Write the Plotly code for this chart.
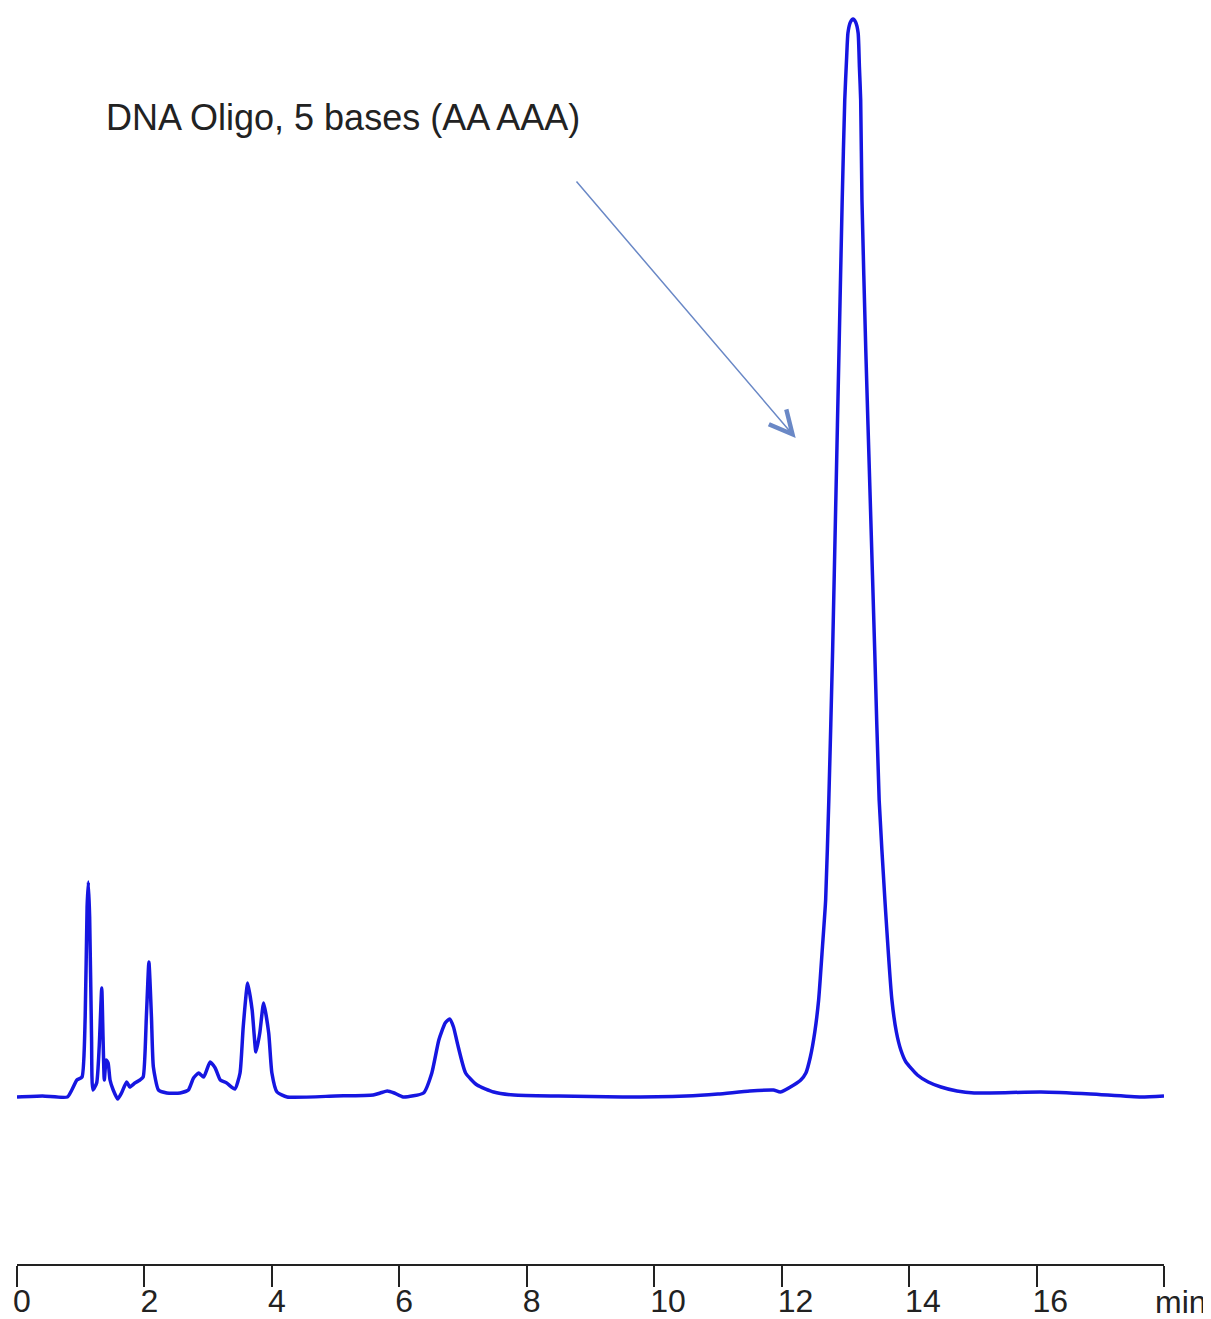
import plotly.graph_objects as go

# Retention time (min) and detector signal (arbitrary units)
time_min = [
    0.00, 0.40, 0.79, 0.86, 0.94, 1.02, 1.07, 1.10, 1.12, 1.14, 1.17, 1.19,
    1.25, 1.29, 1.33, 1.35, 1.37, 1.40, 1.43, 1.46, 1.51, 1.58, 1.64, 1.72,
    1.77, 1.85, 1.93, 1.98, 2.03, 2.07, 2.11, 2.14, 2.22, 2.35, 2.56, 2.69,
    2.77, 2.85, 2.93, 3.03, 3.11, 3.19, 3.29, 3.42, 3.50, 3.55, 3.62, 3.69,
    3.75, 3.81, 3.87, 3.95, 4.00, 4.08, 4.24, 5.00, 5.59, 5.70, 5.81, 5.92,
    6.06, 6.38, 6.51, 6.62, 6.72, 6.79, 6.85, 6.91, 7.04, 7.22, 7.48, 7.80,
    8.50, 9.50, 10.50, 11.00, 11.50, 11.87, 11.98, 12.19, 12.30, 12.38, 12.45,
    12.52, 12.58, 12.64, 12.69, 12.74, 12.80, 12.85, 12.90, 12.95, 12.99,
    13.02, 13.04, 13.08, 13.12, 13.16, 13.20, 13.22, 13.24, 13.26, 13.32,
    13.39, 13.46, 13.53, 13.62, 13.73, 13.80, 13.87, 13.95, 14.13, 14.30,
    14.50, 14.75, 15.02, 16.07, 16.85, 17.64, 18.00,
]
signal = [
    0, 1, 0, 7, 17, 20, 80, 190, 215, 180, 60, 7,
    14, 50, 109, 60, 17, 37, 34, 17, 7, -2, 4, 15,
    10, 14, 17, 20, 80, 135, 80, 30, 7, 4, 4, 7,
    19, 24, 20, 35, 29, 17, 14, 8, 24, 70, 114, 87,
    45, 64, 94, 64, 24, 5, 0, 1, 2, 4, 6, 4,
    0, 4, 24, 57, 74, 78, 70, 54, 24, 12, 5, 2,
    1, 0, 1, 3, 6, 7, 5, 12, 17, 24, 40,
    65, 97, 150, 197, 297, 447, 597, 747, 897, 997,
    1040, 1064, 1075, 1078, 1075, 1064, 1030, 997, 897, 747,
    597, 447, 297, 197, 97, 65, 47, 35, 22, 15,
    10, 6, 4, 5, 3, 0, 1,
]

tick_values = [0, 2, 4, 6, 8, 10, 12, 14, 16, 18]
tick_labels = ["0", "2", "4", "6", "8", "10", "12", "14", "16", ""]
unit_label = "min"
peak_label = "DNA Oligo, 5 bases (AA AAA)"

# annotation geometry (data coordinates)
label_pos = (5.11, 980)
arrow_tail = (8.76, 917)
arrow_head = (12.22, 659)

FONT = "Liberation Sans, Arial, sans-serif"

fig = go.Figure()
fig.add_trace(go.Scatter(
    x=time_min, y=signal, mode="lines",
    line=dict(color="rgb(22,22,225)", width=3.5, shape="spline", smoothing=0.5),
    hoverinfo="x+y", showlegend=False,
))

fig.add_annotation(
    x=label_pos[0], y=label_pos[1], xref="x", yref="y",
    text=peak_label, showarrow=False,
    font=dict(family=FONT, size=36, color="#222222"),
    xanchor="center", yanchor="middle",
)
fig.add_annotation(
    x=arrow_head[0], y=arrow_head[1], xref="x", yref="y",
    ax=arrow_tail[0], ay=arrow_tail[1], axref="x", ayref="y",
    text="", showarrow=True, arrowhead=5, arrowsize=3, arrowwidth=1.5,
    arrowcolor="#6a88c6",
)
fig.add_annotation(
    x=tick_values[-1], y=0, xref="x", yref="paper",
    text=unit_label, showarrow=False,
    font=dict(family=FONT, size=32, color="#222222"),
    xanchor="left", yanchor="middle", xshift=-11, yshift=-38,
)

# the page body adds an 8px offset, so the figure is 8px smaller on each axis
fig.update_layout(
    width=1203, height=1311,
    margin=dict(l=9, r=47, t=0, b=55, autoexpand=False),
    paper_bgcolor="white", plot_bgcolor="white",
    xaxis=dict(
        range=[0, 18], tickvals=tick_values, ticktext=tick_labels,
        showline=True, linecolor="#222222", linewidth=2,
        ticks="outside", ticklen=21, tickwidth=2, tickcolor="#222222",
        showgrid=False, zeroline=False, automargin=False,
        ticklabelposition="outside right", ticklabelstandoff=8, ticklabelshift=-6,
        tickfont=dict(family=FONT, size=32, color="#222222"),
    ),
    yaxis=dict(range=[-167, 1089], visible=False, showgrid=False, zeroline=False),
)

fig.write_html("out.html")
